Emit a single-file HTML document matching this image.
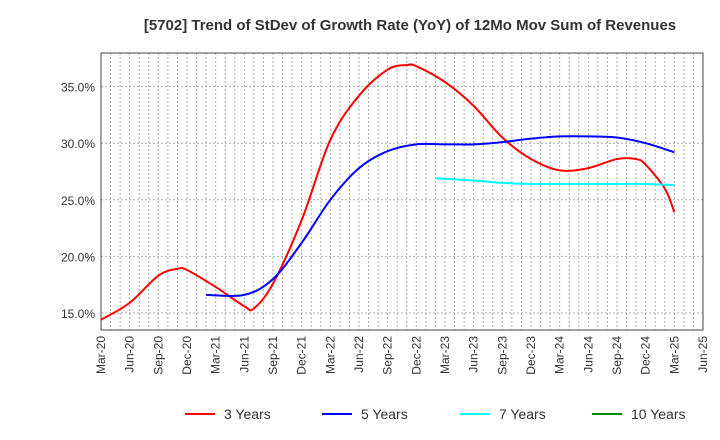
<!DOCTYPE html>
<html><head><meta charset="utf-8"><style>
body{margin:0;background:#fff;}
svg{display:block;font-family:"Liberation Sans",sans-serif;}
</style></head><body>
<svg id="c" width="720" height="440">
<text x="410" y="30" text-anchor="middle" font-size="15" font-weight="bold" fill="#333">[5702]  Trend of StDev of Growth Rate (YoY) of 12Mo Mov Sum of Revenues</text>
</svg>
<script>
const xLabels=["Mar-20","Jun-20","Sep-20","Dec-20","Mar-21","Jun-21","Sep-21","Dec-21","Mar-22","Jun-22","Sep-22","Dec-22","Mar-23","Jun-23","Sep-23","Dec-23","Mar-24","Jun-24","Sep-24","Dec-24","Mar-25","Jun-25"];
const yTicks=[15,20,25,30,35];
// month index from Mar-20
const m3=[0,3,6,8,9,12,15,16,18,21,24,27,30,32,33,36,39,42,45,48,51,54,56,57,59,60];
const v3=[14.4,15.9,18.3,18.9,18.8,17.3,15.6,15.4,17.6,23.2,30.3,34.2,36.5,36.9,36.8,35.4,33.3,30.5,28.6,27.6,27.8,28.6,28.6,28.1,26.0,23.9];
const m5=[11,15,18,21,24,27,30,33,36,39,42,45,48,51,54,57,60];
const v5=[16.6,16.6,18.0,21.2,25.0,27.8,29.3,29.9,29.9,29.9,30.1,30.4,30.6,30.6,30.5,30.0,29.2];
const m7=[35,39,42,45,48,51,54,57,60];
const v7=[26.9,26.7,26.5,26.4,26.4,26.4,26.4,26.4,26.3];
const m10=[];const v10=[];
const X0=101,X1=703,Y0=53,Y1=330;
const xs=m=>X0+m*(X1-X0)/63;
const ys=v=>313-(v-15)*56.6/5;
const svg=document.getElementById('c');const NS='http://www.w3.org/2000/svg';
function el(t,a){const e=document.createElementNS(NS,t);for(const k in a)e.setAttribute(k,a[k]);svg.appendChild(e);return e;}
for(let m=1;m<63;m++){const g=el('line',{x1:xs(m),x2:xs(m),y1:Y0,y2:Y1,stroke:'#aaa','stroke-dasharray':'2,2'});

}
yTicks.forEach(v=>{const g=el('line',{x1:X0,x2:X1,y1:ys(v),y2:ys(v),stroke:'#aaa','stroke-dasharray':'2,2'});


const t=el('text',{x:X0-6,y:ys(v)+5,'text-anchor':'end','font-size':'12',fill:'#333'});t.textContent=v.toFixed(1)+'%';

});
const fr=el('rect',{x:X0,y:Y0,width:X1-X0,height:Y1-Y0,fill:'none',stroke:'#444'});


xLabels.forEach((l,i)=>{const x=xs(i*3);const t=el('text',{transform:`translate(${x+4},${Y1+6}) rotate(-90)`,'text-anchor':'end','font-size':'12',fill:'#333'});t.textContent=l;

});
function path(ms,vs){if(!ms.length)return '';const p=ms.map((m,i)=>[xs(m),ys(vs[i])]);let d=`M${p[0][0]},${p[0][1]}`;
for(let i=0;i<p.length-1;i++){const a=p[i-1]||p[i],b=p[i],c=p[i+1],e=p[i+2]||c;
d+=` C${b[0]+(c[0]-a[0])/6},${b[1]+(c[1]-a[1])/6} ${c[0]-(e[0]-b[0])/6},${c[1]-(e[1]-b[1])/6} ${c[0]},${c[1]}`;}return d;}
[[m3,v3,'#f00','series-3-years'],[m5,v5,'#00f','series-5-years'],[m7,v7,'#0ff','series-7-years'],[m10,v10,'#080','series-10-years']].forEach(s=>{
if(!s[0].length)return;const p=el('path',{d:path(s[0],s[1]),fill:'none',stroke:s[2],'stroke-width':2});

});
[[185,'#f00','3 Years'],[322,'#00f','5 Years'],[460,'#0ff','7 Years'],[592,'#080','10 Years']].forEach(l=>{
const ln=el('line',{x1:l[0],x2:l[0]+30,y1:414,y2:414,stroke:l[1],'stroke-width':2});


const t=el('text',{x:l[0]+39,y:419,'font-size':'14',fill:'#333'});t.textContent=l[2];

});
</script>
</body></html>
